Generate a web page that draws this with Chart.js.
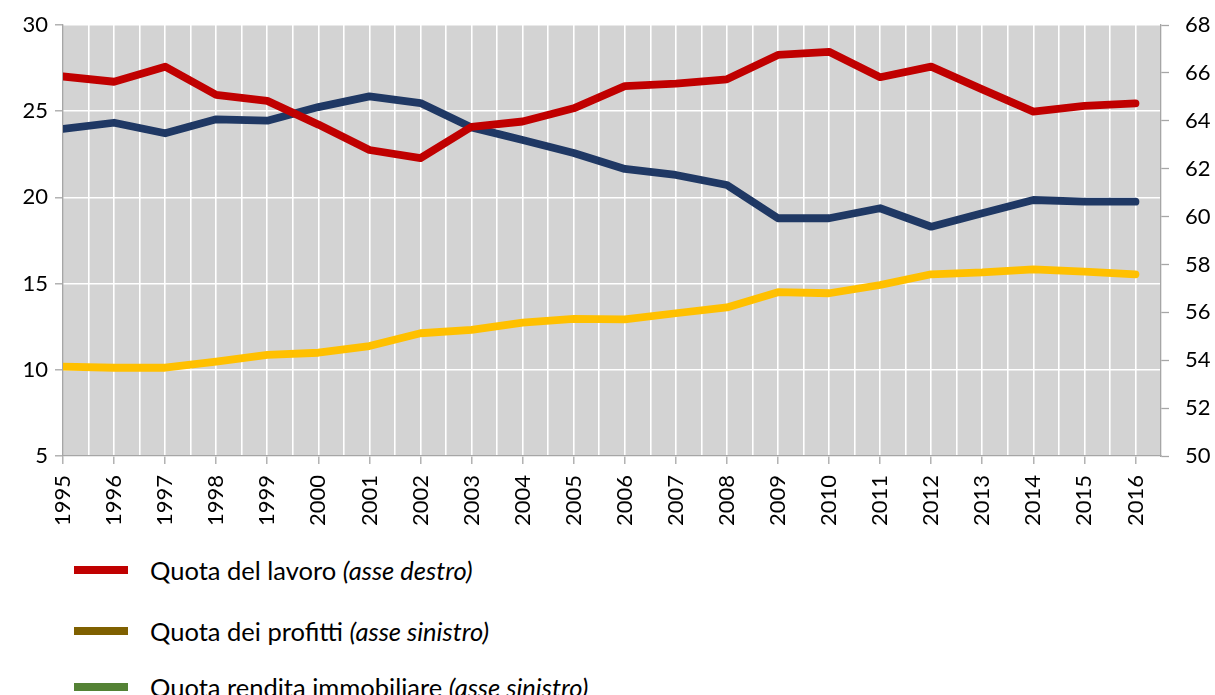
<!DOCTYPE html>
<html>
<head>
<meta charset="utf-8">
<script src="https://cdn.jsdelivr.net/npm/chart.js@4.4.0/dist/chart.umd.min.js"></script>
<style>
  html, body { margin: 0; padding: 0; background: #fff; }
  #wrap { position: relative; width: 1215px; height: 695px; overflow: hidden; }
  #c { position: absolute; left: 0; top: 0; }
  .leg { position: absolute; left: 74px; height: 30px; display: flex; align-items: center;
         font-family: Lato, "Open Sans", sans-serif; font-size: 25.5px; color: #000; white-space: nowrap; }
  .leg .sw { width: 54px; height: 8px; margin-right: 22px; }
</style>
</head>
<body>
<div id="wrap">
  <canvas id="c" width="1215" height="540"></canvas>
  <div id="legend"></div>
</div>
<script>
const years = [1995,1996,1997,1998,1999,2000,2001,2002,2003,2004,2005,2006,2007,2008,2009,2010,2011,2012,2013,2014,2015,2016];
const quotaLavoro = [65.85,65.63,66.26,65.08,64.83,63.84,62.78,62.44,63.75,63.97,64.52,65.45,65.55,65.73,66.75,66.88,65.82,66.26,65.31,64.38,64.62,64.73];
const quotaProfitti = [23.97,24.33,23.72,24.53,24.45,25.24,25.86,25.47,24.06,23.33,22.58,21.65,21.3,20.72,18.79,18.79,19.37,18.3,19.08,19.85,19.75,19.75];
const quotaRendita = [10.18,10.12,10.12,10.47,10.86,10.99,11.38,12.12,12.31,12.73,12.95,12.92,13.28,13.62,14.5,14.44,14.92,15.54,15.65,15.83,15.69,15.54];
const leftTicks = [5,10,15,20,25,30];
const rightTicks = [50,52,54,56,58,60,62,64,66,68];
const legendItems = [
  {name: 'Quota del lavoro ', note: '(asse destro)', color: '#c00000'},
  {name: 'Quota dei profitti ', note: '(asse sinistro)', color: '#7f6000'},
  {name: 'Quota rendita immobiliare ', note: '(asse sinistro)', color: '#548235'}
];

const FONT = {family: 'Lato, "Open Sans", sans-serif', size: 22};
const AXIS = '#a6a6a6';
const pts = arr => arr.map((v, i) => ({x: years[i], y: v}));

const bgPlugin = {
  id: 'plotBg',
  beforeDraw(chart) {
    const a = chart.chartArea, ctx = chart.ctx;
    ctx.save();
    ctx.fillStyle = '#d3d3d3';
    ctx.fillRect(a.left, a.top, a.right - a.left, a.bottom - a.top);
    ctx.restore();
  }
};

const lineDs = (label, data, color, axis, order) => ({
  label, data: pts(data), yAxisID: axis, borderColor: color, backgroundColor: color,
  borderWidth: 7.8, pointRadius: 0, pointHoverRadius: 0, tension: 0,
  borderCapStyle: 'round', borderJoinStyle: 'round', fill: false, order
});

new Chart(document.getElementById('c'), {
  type: 'line',
  data: {
    datasets: [
      lineDs('Quota del lavoro', quotaLavoro, '#c00000', 'yR', 0),
      lineDs('Quota dei profitti', quotaProfitti, '#1f3864', 'yL', 1),
      lineDs('Quota rendita immobiliare', quotaRendita, '#ffc000', 'yL', 2)
    ]
  },
  options: {
    responsive: false,
    animation: false,
    events: [],
    layout: {padding: {top: 25, left: 0, right: 0, bottom: 0}, autoPadding: false},
    plugins: {legend: {display: false}, tooltip: {enabled: false}},
    scales: {
      x: {
        type: 'linear',
        min: years[0], max: years[years.length - 1] + 0.5,
        afterBuildTicks(scale) {
          const t = [];
          for (let v = years[0]; v <= years[years.length - 1] + 0.001; v += 0.5) t.push({value: v});
          scale.ticks = t;
        },
        afterFit(scale) { scale.height = 540 - 456; scale.paddingLeft = 0; scale.paddingRight = 0; },
        grid: {
          color: ctx => (ctx.tick && ctx.tick.value === years[0]) ? 'rgba(0,0,0,0)' : '#ffffff',
          lineWidth: 1.6,
          tickColor: ctx => (ctx.tick && Number.isInteger(ctx.tick.value)) ? AXIS : 'rgba(0,0,0,0)',
          tickLength: 8, tickWidth: 1.3
        },
        border: {color: AXIS, width: 1.3},
        ticks: {
          autoSkip: false, minRotation: 90, maxRotation: 90, padding: 11,
          color: '#000', font: FONT,
          callback: v => Number.isInteger(v) ? String(v) : ''
        }
      },
      yL: {
        position: 'left', min: 5, max: 30,
        afterBuildTicks(scale) { scale.ticks = leftTicks.map(v => ({value: v})); },
        afterFit(scale) { scale.width = 63; scale.paddingTop = 0; scale.paddingBottom = 0; },
        grid: {color: '#ffffff', lineWidth: 1.6, tickColor: AXIS, tickLength: 8, tickWidth: 1.3},
        border: {color: AXIS, width: 1.3},
        ticks: {color: '#000', font: FONT, padding: 7}
      },
      yR: {
        position: 'right', min: 50, max: 68,
        afterBuildTicks(scale) { scale.ticks = rightTicks.map(v => ({value: v})); },
        afterFit(scale) { scale.width = 1215 - 1161; scale.paddingTop = 0; scale.paddingBottom = 0; },
        grid: {drawOnChartArea: false, tickColor: AXIS, tickLength: 8, tickWidth: 1.3},
        border: {color: AXIS, width: 1.3},
        ticks: {color: '#000', font: FONT, padding: 16}
      }
    }
  },
  plugins: [bgPlugin]
});

const legTops = [555, 616, 672];
const legend = document.getElementById('legend');
legendItems.forEach((it, i) => {
  const d = document.createElement('div');
  d.className = 'leg';
  d.style.top = legTops[i] + 'px';
  const sw = document.createElement('span');
  sw.className = 'sw'; sw.style.background = it.color;
  const t = document.createElement('span');
  t.textContent = it.name;
  const em = document.createElement('i');
  em.textContent = it.note;
  t.appendChild(em);
  d.appendChild(sw); d.appendChild(t);
  legend.appendChild(d);
});
</script>
</body>
</html>
